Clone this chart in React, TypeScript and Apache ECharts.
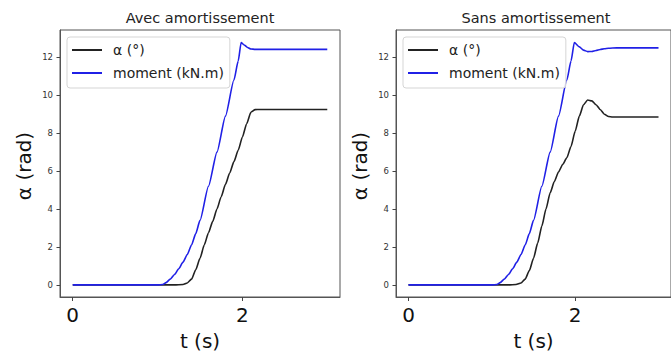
import React, { useEffect, useRef } from "react";
import * as echarts from "echarts";

// Avec amortissement
const tAlphaAvec = [0, 1.2, 1.3, 1.35, 1.4, 1.45, 1.5, 1.55, 1.6, 1.65, 1.7, 1.75, 1.8, 1.85, 1.9, 1.95, 2.0, 2.05, 2.1, 2.15, 2.2, 3.0];
const alphaAvec = [0, 0, 0.02, 0.1, 0.3, 0.8, 1.4, 2.1, 2.75, 3.35, 4.0, 4.65, 5.3, 5.9, 6.5, 7.1, 7.8, 8.5, 9.1, 9.24, 9.25, 9.25];
const tMomentAvec = [0, 1.0, 1.06, 1.1, 1.15, 1.2, 1.25, 1.3, 1.35, 1.4, 1.45, 1.5, 1.6, 1.7, 1.8, 1.9, 1.95, 1.985, 2.02, 2.06, 2.1, 2.15, 3.0];
const momentAvec = [0, 0, 0.02, 0.12, 0.3, 0.55, 0.85, 1.2, 1.6, 2.1, 2.7, 3.4, 5.2, 7.0, 8.9, 10.8, 11.8, 12.78, 12.65, 12.52, 12.44, 12.42, 12.42];

// Sans amortissement
const tAlphaSans = [0, 1.2, 1.29, 1.35, 1.4, 1.45, 1.5, 1.55, 1.6, 1.65, 1.7, 1.75, 1.8, 1.85, 1.9, 1.95, 2.0, 2.05, 2.1, 2.15, 2.2, 2.25, 2.3, 2.35, 2.4, 2.45, 3.0];
const alphaSans = [0, 0, 0.02, 0.1, 0.3, 0.75, 1.4, 2.2, 3.1, 4.0, 4.85, 5.45, 5.95, 6.35, 6.7, 7.3, 8.1, 8.9, 9.5, 9.75, 9.7, 9.5, 9.25, 9.0, 8.88, 8.85, 8.85];
const tMomentSans = [0, 1.0, 1.06, 1.1, 1.15, 1.2, 1.25, 1.3, 1.35, 1.4, 1.45, 1.5, 1.6, 1.7, 1.8, 1.9, 1.95, 1.99, 2.05, 2.1, 2.15, 2.2, 2.25, 2.3, 2.35, 2.4, 2.5, 3.0];
const momentSans = [0, 0, 0.02, 0.12, 0.3, 0.55, 0.85, 1.2, 1.6, 2.1, 2.7, 3.4, 5.2, 7.0, 8.9, 10.8, 11.8, 12.78, 12.55, 12.38, 12.3, 12.31, 12.36, 12.41, 12.45, 12.48, 12.5, 12.5];

const xTicks = [0, 2];
const yTicks = [0, 2, 4, 6, 8, 10, 12];
const titles = ["Avec amortissement", "Sans amortissement"];
const seriesNames = ["α (°)", "moment (kN.m)"];
const xName = "t (s)";
const yName = "α (rad)";

const FONT = "DejaVu Sans";

const pairs = (t: number[], v: number[]) => t.map((x, i) => [x, v[i]]);

export default function App() {
  const ref = useRef<HTMLDivElement>(null);
  useEffect(() => {
    if (!ref.current) return;
    const chart = echarts.init(ref.current, undefined, { renderer: "svg" });
    const grids = [
      { left: 60, top: 30, width: 280, height: 267 },
      { left: 396, top: 30, width: 280, height: 267 },
    ];
    const xAxis = grids.map((_, i) => ({
      type: "value",
      gridIndex: i,
      min: -0.15,
      max: 3.15,
      name: xName,
      nameLocation: "middle",
      nameGap: 34,
      nameTextStyle: { fontSize: 20, color: "#111" },
      axisLine: { show: true, onZero: false, lineStyle: { color: "#555", width: 1 } },
      axisTick: { show: true, customValues: xTicks, length: 4, lineStyle: { color: "#444" } },
      axisLabel: { customValues: xTicks, fontSize: 20, color: "#111", margin: 8 },
      splitLine: { show: false },
    }));
    const yAxis = grids.map((_, i) => ({
      type: "value",
      gridIndex: i,
      min: -0.64,
      max: 13.44,
      axisLine: { show: true, onZero: false, lineStyle: { color: "#555", width: 1 } },
      axisTick: { show: true, customValues: yTicks, length: 3.5, lineStyle: { color: "#444" } },
      axisLabel: { customValues: yTicks, fontSize: 8.5, color: "#333", margin: 7 },
      splitLine: { show: false },
    }));
    const mk = (name: string, data: number[][], idx: number, color: string) => ({
      type: "line",
      name,
      xAxisIndex: idx,
      yAxisIndex: idx,
      data,
      showSymbol: false,
      symbol: "none",
      smooth: 0.2,
      smoothMonotone: "x",
      lineStyle: { color, width: 1.6 },
      itemStyle: { color },
    });
    const black = "#222222";
    const blue = "#2020e6";
    const legend = grids.map((g) => ({
      orient: "vertical",
      left: g.left + 7,
      top: 37,
      padding: [6, 6, 8, 5],
      backgroundColor: "rgba(255,255,255,0.85)",
      borderColor: "#d5d5d5",
      borderWidth: 1,
      borderRadius: 3,
      itemWidth: 30,
      itemHeight: 2,
      itemGap: 9,
      icon: "rect",
      data: seriesNames,
      textStyle: { fontSize: 14, color: "#222", padding: [0, 0, 0, 6] },
      selectedMode: false,
    }));
    const titleTexts = titles.map((t, i) => ({
      type: "text",
      x: grids[i].left + grids[i].width / 2,
      y: 18,
      style: { text: t, textAlign: "center", textVerticalAlign: "middle", fontSize: 14.5, fontFamily: FONT, fill: "#222" },
    }));
    const yNames = grids.map((g) => ({
      type: "text",
      x: g.left - 36,
      y: 166,
      rotation: Math.PI / 2,
      style: { text: yName, textAlign: "center", textVerticalAlign: "middle", fontSize: 20, fontFamily: FONT, fill: "#111" },
    }));
    chart.setOption({
      animation: false,
      backgroundColor: "#ffffff",
      textStyle: { fontFamily: FONT },
      grid: grids.map((g) => ({ ...g, show: true, borderColor: "#555", borderWidth: 1, backgroundColor: "transparent" })),
      xAxis,
      yAxis,
      legend,
      graphic: [...titleTexts, ...yNames],
      series: [
        mk(seriesNames[0], pairs(tAlphaAvec, alphaAvec), 0, black),
        mk(seriesNames[1], pairs(tMomentAvec, momentAvec), 0, blue),
        mk(seriesNames[0], pairs(tAlphaSans, alphaSans), 1, black),
        mk(seriesNames[1], pairs(tMomentSans, momentSans), 1, blue),
      ],
    });
    return () => chart.dispose();
  }, []);
  return <div ref={ref} style={{ position: "absolute", left: 0, top: 0, width: 671, height: 358 }} />;
}
